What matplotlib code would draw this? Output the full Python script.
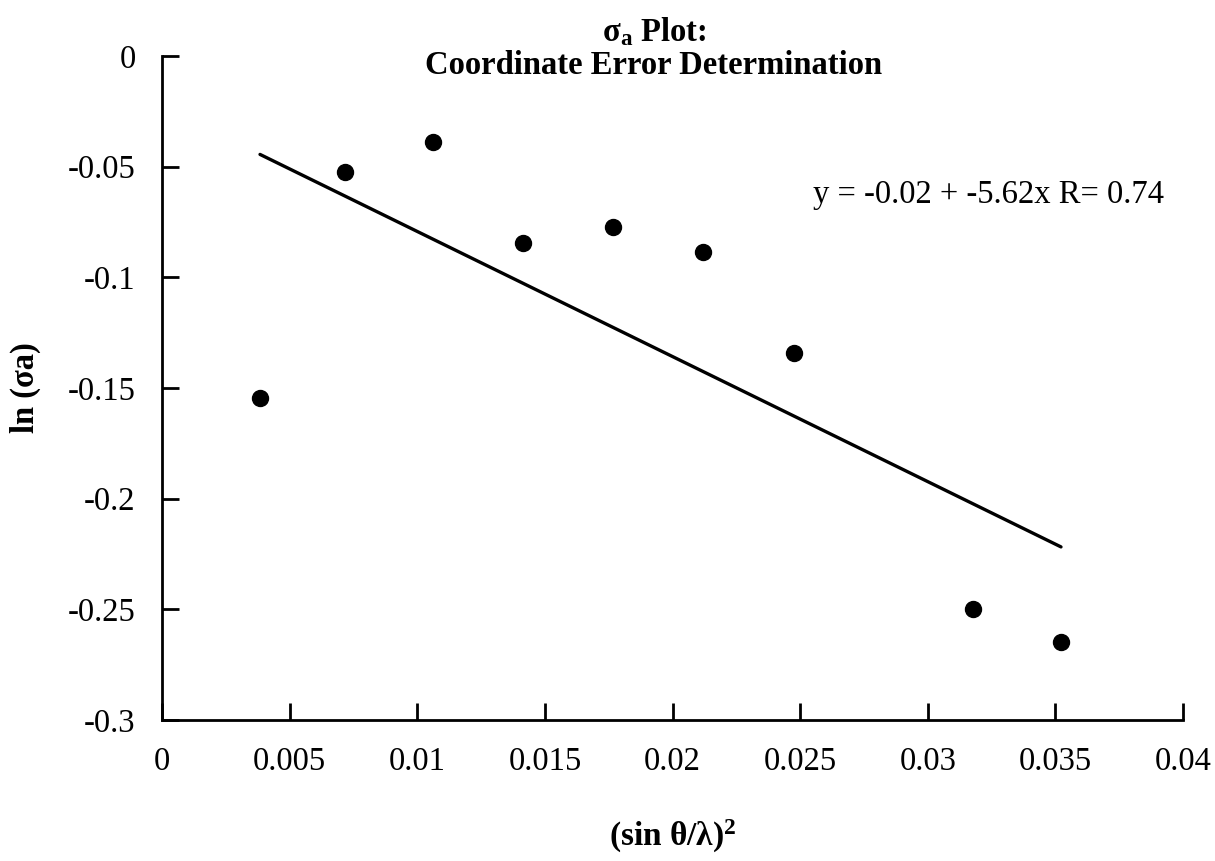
import numpy as np
import matplotlib
matplotlib.use("Agg")
import matplotlib.pyplot as plt

plt.rcParams['font.family'] = ['Liberation Serif', 'DejaVu Serif']
plt.rcParams['mathtext.fontset'] = 'custom'
plt.rcParams['mathtext.rm'] = 'Liberation Serif'
plt.rcParams['mathtext.it'] = 'Liberation Serif:italic'
plt.rcParams['mathtext.bf'] = 'Liberation Serif:bold'

# (sin theta / lambda)^2 and ln(sigma_a)
sin_sq = [0.00384, 0.00717, 0.01062, 0.01414, 0.01767, 0.02119, 0.02476, 0.03177, 0.03522]
ln_sigma = [-0.1545, -0.0524, -0.0389, -0.0845, -0.0773, -0.0886, -0.1342, -0.2499, -0.2648]

x_ticks = [0, 0.005, 0.01, 0.015, 0.02, 0.025, 0.03, 0.035, 0.04]
x_labels = ['0', '0.005', '0.01', '0.015', '0.02', '0.025', '0.03', '0.035', '0.04']
y_ticks = [0, -0.05, -0.1, -0.15, -0.2, -0.25, -0.3]
y_labels = ['0', '-0.05', '-0.1', '-0.15', '-0.2', '-0.25', '-0.3']

fit_text = 'y = -0.02 + -5.62x R= 0.74'

fig = plt.figure(figsize=(12.15, 8.61), dpi=100)
ax = fig.add_axes([162/1215, 1 - 720/861, (1183 - 162)/1215, (720 - 56)/861])

# least squares line over the data range
xs = np.array(sin_sq)
slope, icpt = np.polyfit(xs, np.array(ln_sigma), 1)
xl = np.array([xs.min(), xs.max()])
ax.plot(xl, icpt + slope*xl, color='black', lw=2.4, solid_capstyle='round')

ax.plot(sin_sq, ln_sigma, 'o', color='black', markersize=11.5)

ax.set_xlim(0, 0.04)
ax.set_ylim(-0.3, 0)
ax.set_xticks(x_ticks)
ax.set_xticklabels(x_labels)
ax.set_yticks(y_ticks)
ax.set_yticklabels(y_labels)

for s in ['top', 'right']:
    ax.spines[s].set_visible(False)
for s in ['left', 'bottom']:
    ax.spines[s].set_linewidth(2)
ax.tick_params(direction='in', length=12, width=2, labelsize=23.5)
ax.tick_params(axis='x', pad=19)
ax.tick_params(axis='y', pad=19)

ax.text(0.0255, -0.0665, fit_text, fontsize=23.5, va='baseline', ha='left')

ax.set_ylabel('ln (σa)', fontsize=23.5, fontweight='bold', va='center')
ax.yaxis.set_label_coords(-0.134, 0.5)
ax.set_xlabel('(sin θ/λ)$^\\mathbf{2}$', fontsize=24, fontweight='bold', va='center')
ax.xaxis.set_label_coords(0.5, -0.175)

fig.text(654/1215, 1 - 32/861, 'σ$_\\mathbf{a}$ Plot:', fontsize=23.5, fontweight='bold',
         ha='center', va='center')
fig.text(654/1215, 1 - 65/861, 'Coordinate Error Determination', fontsize=23.5, fontweight='bold',
         ha='center', va='center')

fig.savefig('out.png', dpi=100, facecolor='white')
